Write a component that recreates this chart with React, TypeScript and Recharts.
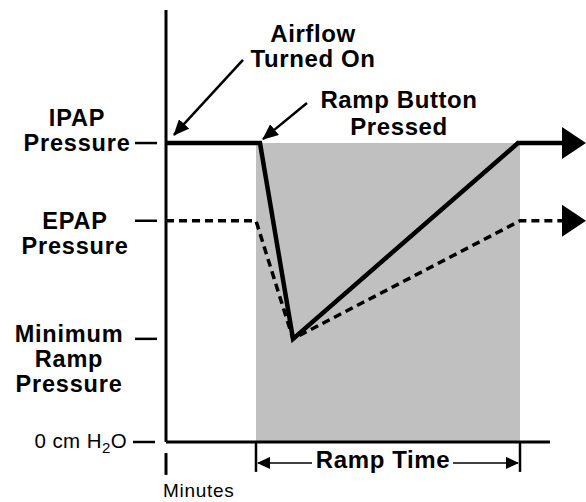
import { ComposedChart, Line, XAxis, YAxis, ReferenceArea, ReferenceLine, ReferenceDot } from 'recharts';

// pressure traces (minutes -> cm H2O, arbitrary scale)
const ipapMinutes = [0, 9.4, 12.7, 35.2, 39.7];
const ipapPressure = [10, 10, 3.45, 10, 10];
const epapMinutes = [0, 9.0, 12.7, 35.4, 39.7];
const epapPressure = [7.4, 7.4, 3.45, 7.4, 7.4];

const rampStart = 9.0;
const rampEnd = 35.4;
const axisEnd = 38.4;

const pressureTicks = [0, 3.45, 7.4, 10];
const pressureLabels = [['0 cm H2O'], ['Minimum', 'Ramp', 'Pressure'], ['EPAP', 'Pressure'], ['IPAP', 'Pressure']];

const ipapData = ipapMinutes.map((m, i) => ({ minutes: m, pressure: ipapPressure[i] }));
const epapData = epapMinutes.map((m, i) => ({ minutes: m, pressure: epapPressure[i] }));

const FONT = '"Liberation Sans", Arial, Helvetica, sans-serif';
const AXIS_X = 166;

// where each tick's text block sits relative to the tick
const tickLayout = [
  { x: 127, anchor: 'end', dy: 6, gap: 0 },
  { x: 69, anchor: 'middle', dy: 3, gap: 25 },
  { x: 75, anchor: 'middle', dy: 8, gap: 25 },
  { x: 77, anchor: 'middle', dy: -17, gap: 25 },
];

const PressureTick = (props: any) => {
  const { y, index } = props;
  const lay = tickLayout[index];
  const lines = pressureLabels[index];
  if (index === 0) {
    return (
      <g>
        <text x={lay.x} y={y + lay.dy} textAnchor="end" fontFamily={FONT} fontSize={20.5} letterSpacing={0.4} fill="#000">
          0 cm H<tspan dy={5} fontSize={15}>2</tspan><tspan dy={-5}>O</tspan>
        </text>
        <line x1={AXIS_X - 33} x2={AXIS_X - 11} y1={y} y2={y} stroke="#000" strokeWidth={2.5} />
      </g>
    );
  }
  return (
    <g>
      <text x={lay.x} y={y + lay.dy} textAnchor={lay.anchor} fontFamily={FONT} fontSize={23.5} fontWeight="bold" letterSpacing={0.8} fill="#000">
        {lines.map((l, i) => (
          <tspan key={i} x={lay.x} dy={i === 0 ? 0 : lay.gap}>{l}</tspan>
        ))}
      </text>
      <line x1={AXIS_X - 31} x2={AXIS_X - 9} y1={y} y2={y} stroke="#000" strokeWidth={2.5} />
    </g>
  );
};

const arrowDot = (last: number) => (props: any) => {
  const { cx, cy, index } = props;
  if (index !== last) return <g key={`d${index}`} />;
  return <polygon key={`d${index}`} points={`${cx - 1},${cy - 16} ${cx + 23},${cy} ${cx - 1},${cy + 16}`} fill="#000" />;
};

const textShape = (lines: string[], size: number, weight: string, anchor: string, gap: number, spacing: number) => (p: any) => (
  <text x={p.cx} y={p.cy} textAnchor={anchor} fontFamily={FONT} fontSize={size} fontWeight={weight} letterSpacing={spacing} fill="#000">
    {lines.map((l, i) => (
      <tspan key={i} x={p.cx} dy={i === 0 ? 0 : gap}>{l}</tspan>
    ))}
  </text>
);

export default function App() {
  return (
    <div style={{ position: 'absolute', left: 0, top: 0 }}>
      <svg width={0} height={0} style={{ position: 'absolute' }}>
        <defs>
          <marker id="bigHead" markerWidth={16} markerHeight={14} refX={15} refY={7} orient="auto" markerUnits="userSpaceOnUse">
            <path d="M0,0 L16,7 L0,14 z" fill="#000" />
          </marker>
          <marker id="smallHead" markerWidth={13} markerHeight={12} refX={12} refY={6} orient="auto" markerUnits="userSpaceOnUse">
            <path d="M0,0 L13,6 L0,12 z" fill="#000" />
          </marker>
        </defs>
      </svg>
      <ComposedChart width={586} height={502} margin={{ top: 10, right: 0, bottom: 60, left: 0 }}>
        <XAxis type="number" dataKey="minutes" domain={[0, 42]} hide />
        <YAxis
          type="number"
          domain={[0, 14.45]}
          ticks={pressureTicks}
          interval={0}
          width={AXIS_X}
          tickLine={false}
          tick={PressureTick}
          axisLine={{ stroke: '#000', strokeWidth: 3 }}
        />
        <ReferenceArea x1={rampStart} x2={rampEnd} y1={0} y2={10} fill="#c0c0c0" fillOpacity={1} stroke="none" />
        <ReferenceLine segment={[{ x: 0, y: 0 }, { x: axisEnd, y: 0 }]} stroke="#000" strokeWidth={3} ifOverflow="visible" />

        <Line data={epapData} dataKey="pressure" type="linear" stroke="#000" strokeWidth={3.5} strokeDasharray="8 5" dot={arrowDot(epapData.length - 1)} activeDot={false} isAnimationActive={false} />
        <Line data={ipapData} dataKey="pressure" type="linear" stroke="#000" strokeWidth={4.5} dot={arrowDot(ipapData.length - 1)} activeDot={false} isAnimationActive={false} />

        {/* ramp time bracket */}
        <ReferenceLine segment={[{ x: rampStart, y: 0 }, { x: rampStart, y: -1.0 }]} stroke="#000" strokeWidth={2.5} ifOverflow="visible" />
        <ReferenceLine segment={[{ x: rampEnd, y: 0 }, { x: rampEnd, y: -1.0 }]} stroke="#000" strokeWidth={2.5} ifOverflow="visible" />
        <ReferenceLine segment={[{ x: 14.6, y: -0.7 }, { x: rampStart + 0.2, y: -0.7 }]} stroke="#000" strokeWidth={1.5} markerEnd="url(#smallHead)" ifOverflow="visible" />
        <ReferenceLine segment={[{ x: 28.7, y: -0.7 }, { x: rampEnd - 0.2, y: -0.7 }]} stroke="#000" strokeWidth={1.5} markerEnd="url(#smallHead)" ifOverflow="visible" />
        <ReferenceDot x={21.7} y={-0.87} ifOverflow="visible" shape={textShape(['Ramp Time'], 24, 'bold', 'middle', 0, 0.6)} />

        {/* minutes marker */}
        <ReferenceLine segment={[{ x: 0, y: -0.37 }, { x: 0, y: -1.1 }]} stroke="#000" strokeWidth={3} ifOverflow="visible" />
        <ReferenceDot x={-0.3} y={-1.84} ifOverflow="visible" shape={textShape(['Minutes'], 19, 'normal', 'start', 0, 0.7)} />

        {/* annotations */}
        <ReferenceLine segment={[{ x: 7.7, y: 12.78 }, { x: 0.8, y: 10.27 }]} stroke="#000" strokeWidth={2.5} markerEnd="url(#bigHead)" ifOverflow="visible" />
        <ReferenceDot x={14.7} y={13.39} ifOverflow="visible" shape={textShape(['Airflow', 'Turned On'], 24, 'bold', 'middle', 25, 0.6)} />
        <ReferenceLine segment={[{ x: 14.1, y: 11.34 }, { x: 9.7, y: 10.13 }]} stroke="#000" strokeWidth={2.5} markerEnd="url(#bigHead)" ifOverflow="visible" />
        <ReferenceDot x={23.3} y={11.17} ifOverflow="visible" shape={textShape(['Ramp Button', 'Pressed'], 24, 'bold', 'middle', 27, 0.6)} />
      </ComposedChart>
    </div>
  );
}
